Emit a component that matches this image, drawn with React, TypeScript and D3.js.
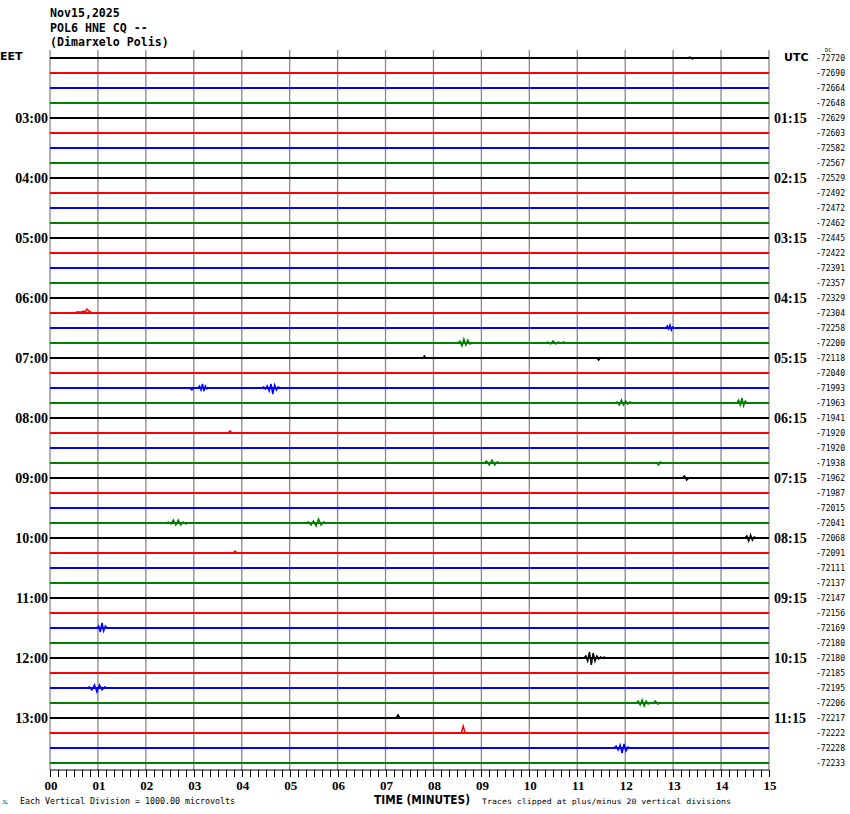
import React from "react";
import * as d3 from "d3";

const W = 850;
const H = 814;

// Header texts
const titleLines = ["Nov15,2025", "POL6 HNE CQ --", "(Dimarxelo Polis)"];

// Trace colours cycle
const traceColors = ["#000000", "#ff0000", "#0000ff", "#007f00"];

// Per-trace DC offset labels (right side), 48 traces
const dcValues = [
  -72720, -72690, -72664, -72648, -72629, -72603, -72582, -72567,
  -72529, -72492, -72472, -72462, -72445, -72422, -72391, -72357,
  -72329, -72304, -72258, -72200, -72118, -72040, -71993, -71963,
  -71941, -71920, -71920, -71938, -71962, -71987, -72015, -72041,
  -72068, -72091, -72111, -72137, -72147, -72156, -72169, -72180,
  -72180, -72185, -72195, -72206, -72217, -72222, -72228, -72233,
];

// Hour labels
const eetHours = ["03:00", "04:00", "05:00", "06:00", "07:00", "08:00", "09:00", "10:00", "11:00", "12:00", "13:00"];
const utcHours = ["01:15", "02:15", "03:15", "04:15", "05:15", "06:15", "07:15", "08:15", "09:15", "10:15", "11:15"];

// Minute ticks
const minuteLabels = ["00", "01", "02", "03", "04", "05", "06", "07", "08", "09", "10", "11", "12", "13", "14", "15"];

// Seismic events: trace row, start/end minute, waveform (px-ish units, + is up)
const eventRows = [17, 18, 19, 19, 22, 22, 22, 23, 23, 27, 27, 31, 31, 32, 38, 40, 42, 43, 43, 45, 46, 44, 20, 20, 28, 25, 33, 0];
const eventStarts = [0.52, 12.85, 8.51, 10.33, 2.92, 3.09, 4.42, 11.79, 14.33, 9.05, 12.66, 2.42, 5.34, 14.5, 0.98, 11.14, 0.77, 12.23, 12.58, 8.58, 11.77, 7.22, 7.78, 11.41, 13.19, 3.71, 3.82, 13.3];
const eventEnds = [0.88, 13.02, 8.8, 10.77, 3.0, 3.3, 4.8, 12.14, 14.54, 9.39, 12.77, 2.88, 5.76, 14.73, 1.19, 11.6, 1.19, 12.52, 12.73, 8.66, 12.1, 7.3, 7.84, 11.48, 13.33, 3.8, 3.9, 13.45];
const eventWaves = [
  [0, 1, 1, 1, 1, 2, 1, 4, 2, 1, 0],
  [0, 2, -1, 3, -2, 1, 0],
  [0, 2, -3, 4, -2, 3, -1, 0],
  [0, 1, -1, 2, -1, 1, 0, 1, 0],
  [0, -2, 0],
  [0, 2, -2, 4, -3, 2, -1, 0],
  [0, 1, -1, 2, -3, 4, -6, 3, -2, 1, 0],
  [0, 1, -2, 3, -2, 2, -1, 1, 0],
  [0, 3, -2, 5, -3, 2, 0],
  [0, 2, -2, 3, -2, 1, 0],
  [0, -2, 1, 0],
  [0, 1, -1, 3, -2, 3, -2, 1, -1, 0],
  [0, 1, -2, 2, -3, 4, -2, 1, 0],
  [0, 2, -3, 3, -2, 1, 0],
  [0, 2, -4, 5, -3, 2, 0],
  [0, 2, -3, 6, -7, 5, -3, 2, -1, 1, 0, 1, 0],
  [0, 1, -2, 3, -4, 3, -2, 1, 0],
  [0, 2, -2, 3, -3, 2, -1, 0],
  [0, 2, -1, 0],
  [0, 7, 0],
  [0, 2, -2, 3, -5, 4, -3, 1, 0],
  [0, 3, 0],
  [0, 2, 0],
  [0, -2, 0],
  [0, 2, -2, 0],
  [0, 2, 0],
  [0, 2, 0],
  [0, 1, -1, 0],
];

const PLOT_L = 50;
const PLOT_R = 769;
const PLOT_TOP = 50;
const AXIS_Y = 770;
const FIRST_ROW_Y = 58;
const LAST_ROW_Y = 763;

export default function App() {
  const nRows = dcValues.length;
  const x = d3.scaleLinear().domain([0, 15]).range([PLOT_L, PLOT_R]);
  const y = d3.scaleLinear().domain([0, nRows - 1]).range([FIRST_ROW_Y, LAST_ROW_Y]);
  const amp = d3.scaleLinear().domain([0, 1]).range([0, -1]);

  const minorTicks = d3.range(0, 15 * 6 + 1).map((i) => i / 6);
  const line = d3.line<[number, number]>().x((d) => d[0]).y((d) => d[1]);

  const serifBold = "'Liberation Serif', 'DejaVu Serif', serif";
  const mono = "'DejaVu Sans Mono', 'Liberation Mono', monospace";
  const sans = "'DejaVu Sans', 'Liberation Sans', sans-serif";

  return (
    <svg
      width={W}
      height={H}
      style={{ position: "absolute", left: 0, top: 0, background: "#fff" }}
      xmlns="http://www.w3.org/2000/svg"
    >
      <rect x={0} y={0} width={W} height={H} fill="#fff" />
      {/* Header */}
      {titleLines.map((t, i) => (
        <text key={t} x={50} y={17 + i * 14.5} fontFamily={mono} fontWeight="bold" fontSize={11.6} fill="#000">
          {t}
        </text>
      ))}
      <text x={0} y={60} fontFamily={sans} fontWeight="bold" fontSize={11} fill="#000">EET</text>
      <text x={784} y={61} fontFamily={sans} fontWeight="bold" fontSize={11} fill="#000">UTC</text>
      <text x={825} y={52} fontFamily={mono} fontSize={5.5} fill="#000">DC</text>

      {/* Vertical grid */}
      {minuteLabels.map((_, i) => (
        <line key={"g" + i} x1={x(i)} x2={x(i)} y1={PLOT_TOP} y2={AXIS_Y} stroke="#888" strokeWidth={1.3} />
      ))}

      {/* Traces */}
      {dcValues.map((v, r) => (
        <g key={"t" + r}>
          <line
            x1={x(0)}
            x2={x(15)}
            y1={y(r)}
            y2={y(r)}
            stroke={traceColors[r % 4]}
            strokeWidth={1.8}
          />
          <text x={816} y={y(r) + 3} fontFamily={mono} fontSize={8} textLength={29} lengthAdjust="spacingAndGlyphs" fill="#000">
            {v}
          </text>
        </g>
      ))}

      {/* Events */}
      {eventRows.map((r, i) => {
        const wave = eventWaves[i];
        const xs = d3.scaleLinear().domain([0, wave.length - 1]).range([x(eventStarts[i]), x(eventEnds[i])]);
        const pts: [number, number][] = wave.map((a, k) => [xs(k), y(r) + amp(a)]);
        return (
          <path key={"e" + i} d={line(pts) || ""} fill="none" stroke={traceColors[r % 4]} strokeWidth={1.5} />
        );
      })}

      {/* Hour labels */}
      {eetHours.map((h, i) => (
        <text key={"l" + h} x={48} y={y(4 + i * 4) + 5} textAnchor="end" fontFamily={serifBold} fontWeight="bold" fontSize={14} fill="#000">
          {h}
        </text>
      ))}
      {utcHours.map((h, i) => (
        <text key={"u" + h} x={774} y={y(4 + i * 4) + 5} fontFamily={serifBold} fontWeight="bold" fontSize={14} fill="#000">
          {h}
        </text>
      ))}

      {/* Bottom axis */}
      <line x1={x(0)} x2={x(15)} y1={AXIS_Y} y2={AXIS_Y} stroke="#000" strokeWidth={1} />
      {minorTicks.map((t, i) => (
        <line key={"mt" + i} x1={Math.round(x(t)) + 0.5} x2={Math.round(x(t)) + 0.5} y1={AXIS_Y} y2={AXIS_Y + 7} stroke="#000" strokeWidth={1} />
      ))}
      {minuteLabels.map((m, i) => (
        <text key={"m" + m} x={x(i) + 1} y={790} textAnchor="middle" fontFamily={serifBold} fontWeight="bold" fontSize={13} fill="#000">
          {m}
        </text>
      ))}
      <text x={374} y={804} fontFamily={sans} fontWeight="bold" fontSize={11.5} textLength={96} lengthAdjust="spacingAndGlyphs" fill="#000">
        TIME (MINUTES)
      </text>
      <text x={482} y={804} fontFamily={mono} fontSize={7.5} textLength={249} lengthAdjust="spacingAndGlyphs" fill="#000">
        Traces clipped at plus/minus 20 vertical divisions
      </text>
      <text x={20} y={804} fontFamily={mono} fontSize={8} textLength={215} lengthAdjust="spacingAndGlyphs" fill="#000">
        Each Vertical Division = 1000.00 microvolts
      </text>
      <text x={2} y={804} fontFamily={mono} fontSize={5} fill="#000">JL</text>
    </svg>
  );
}
